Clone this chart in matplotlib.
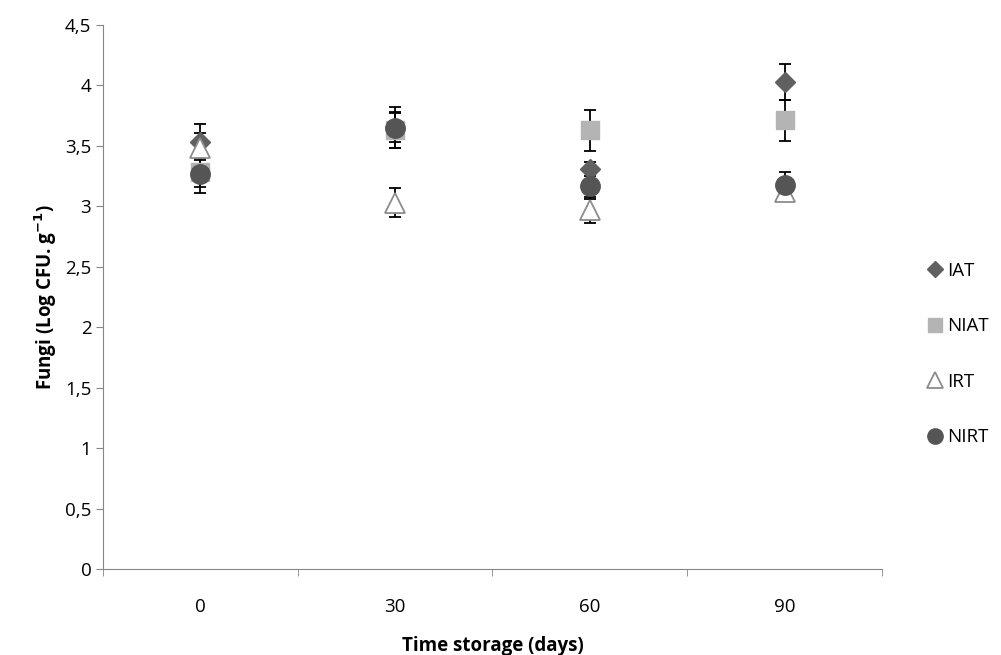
import numpy as np
import matplotlib.pyplot as plt
from matplotlib.lines import Line2D

# Data
DAYS = ["0", "30", "60", "90"]
SERIES = ["IAT", "NIAT", "IRT", "NIRT"]
MEANS = {
    "IAT": [3.53, 3.65, 3.31, 4.03],
    "NIAT": [3.28, 3.63, 3.63, 3.71],
    "IRT": [3.48, 3.03, 2.97, 3.12],
    "NIRT": [3.27, 3.65, 3.17, 3.18],
}
ERRORS = {
    "IAT": [0.15, 0.12, 0.06, 0.15],
    "NIAT": [0.12, 0.15, 0.17, 0.17],
    "IRT": [0.13, 0.12, 0.11, 0.08],
    "NIRT": [0.16, 0.17, 0.11, 0.10],
}

STYLES = {
    "IAT": dict(marker="D", ms=10.5, mfc="#606060", mec="#606060"),
    "NIAT": dict(marker="s", ms=13.5, mfc="#b4b4b4", mec="#b4b4b4"),
    "IRT": dict(marker="^", ms=14, mfc="white", mec="#8c8c8c", mew=1.3),
    "NIRT": dict(marker="o", ms=14, mfc="#555555", mec="#555555"),
}
LEGEND_SIZES = {"IAT": 8, "NIAT": 10, "IRT": 11, "NIRT": 11}

plt.rcParams["font.family"] = ["Open Sans", "DejaVu Sans"]

fig = plt.figure(figsize=(10.01, 6.55), dpi=100)
ax = fig.add_axes([0.103, 0.131, 0.778, 0.831])

x = np.arange(len(DAYS))
for name in SERIES:
    ax.errorbar(x, MEANS[name], yerr=ERRORS[name], fmt="none",
                ecolor="black", elinewidth=1.3, capsize=4.5, capthick=1.3,
                zorder=2)
for name in SERIES:
    ax.plot(x, MEANS[name], linestyle="none", zorder=3, **STYLES[name])

ax.set_xlim(-0.5, len(DAYS) - 0.5)
ax.set_ylim(0, 4.5)
ax.set_yticks(np.arange(0, 4.51, 0.5))
ax.set_yticklabels([f"{v:g}".replace(".", ",") for v in np.arange(0, 4.51, 0.5)])
ax.set_xticks(x)
ax.set_xticklabels(DAYS)
ax.set_xticks(np.arange(-0.5, len(DAYS), 1), minor=True)
ax.tick_params(axis="x", which="major", length=0, labelsize=13.5, pad=21)
ax.tick_params(axis="x", which="minor", length=5, color="#868686")
ax.tick_params(axis="y", length=5, color="#868686", labelsize=13.5)

for side in ["top", "right"]:
    ax.spines[side].set_visible(False)
for side in ["left", "bottom"]:
    ax.spines[side].set_color("#868686")

ax.set_xlabel("Time storage (days)", fontsize=13.5, fontweight="bold", labelpad=14)
ax.set_ylabel("Fungi (Log CFU. g$^{\\mathbf{-1}}$)", fontsize=13.5, fontweight="bold")

handles = []
for name in SERIES:
    st = dict(STYLES[name])
    st["ms"] = LEGEND_SIZES[name]
    handles.append(Line2D([], [], linestyle="none", **st))
ax.legend(handles, SERIES, loc="center left", bbox_to_anchor=(1.035, 0.395),
          frameon=False, fontsize=13.5, handletextpad=0.1, labelspacing=2.0,
          handlelength=1.0)

fig.savefig("out.png", dpi=100)
